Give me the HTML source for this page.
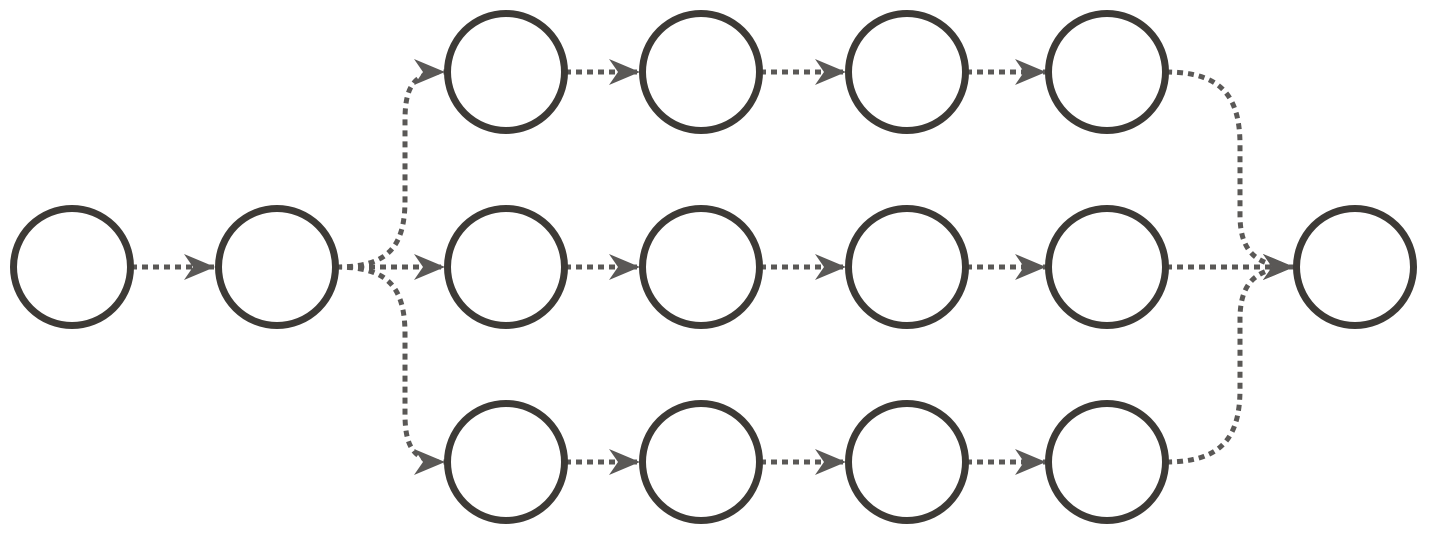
<!DOCTYPE html>
<html><head><style>html,body{margin:0;padding:0;background:#fff}</style></head>
<body>
<svg width="1435" height="540" viewBox="0 0 1435 540" xmlns="http://www.w3.org/2000/svg">
<defs>
<marker id="a" markerWidth="34" markerHeight="28" refX="31" refY="13" orient="auto" markerUnits="userSpaceOnUse">
<path d="M0,0 L31,13 L0,26 L9,13 Z" fill="#5a5856"/>
</marker>
</defs>
<g fill="none" stroke="#5a5856" stroke-width="5" stroke-dasharray="6 5">
<path d="M131,267 L215,267" marker-end="url(#a)"/>
<path d="M336,267 L445,267" marker-end="url(#a)"/>
<path d="M336,267 C385,267 405,250 405,200 L405,120 C405,85 415,72 445,72" marker-end="url(#a)"/>
<path d="M336,267 C385,267 405,284 405,334 L405,414 C405,449 415,462 445,462" marker-end="url(#a)"/>
<path d="M565,72 L640,72" marker-end="url(#a)"/>
<path d="M760,72 L846,72" marker-end="url(#a)"/>
<path d="M966,72 L1046,72" marker-end="url(#a)"/>
<path d="M565,267 L640,267" marker-end="url(#a)"/>
<path d="M760,267 L846,267" marker-end="url(#a)"/>
<path d="M966,267 L1046,267" marker-end="url(#a)"/>
<path d="M565,462 L640,462" marker-end="url(#a)"/>
<path d="M760,462 L846,462" marker-end="url(#a)"/>
<path d="M966,462 L1046,462" marker-end="url(#a)"/>
<path d="M1166,72 C1220,72 1240,95 1240,145 L1240,215 C1240,250 1255,267 1294,267" marker-end="url(#a)"/>
<path d="M1166,462 C1220,462 1240,439 1240,389 L1240,319 C1240,284 1255,267 1294,267" marker-end="url(#a)"/>
<path d="M1166,267 L1294,267" marker-end="url(#a)"/>
</g>
<g fill="none" stroke="#3d3a36" stroke-width="7">
<circle cx="72" cy="267" r="58.5"/>
<circle cx="277" cy="267" r="58.5"/>
<circle cx="506" cy="72" r="58.5"/>
<circle cx="701" cy="72" r="58.5"/>
<circle cx="907" cy="72" r="58.5"/>
<circle cx="1107" cy="72" r="58.5"/>
<circle cx="506" cy="267" r="58.5"/>
<circle cx="701" cy="267" r="58.5"/>
<circle cx="907" cy="267" r="58.5"/>
<circle cx="1107" cy="267" r="58.5"/>
<circle cx="506" cy="462" r="58.5"/>
<circle cx="701" cy="462" r="58.5"/>
<circle cx="907" cy="462" r="58.5"/>
<circle cx="1107" cy="462" r="58.5"/>
<circle cx="1355" cy="267" r="58.5"/>
</g>
</svg>
</body></html>
